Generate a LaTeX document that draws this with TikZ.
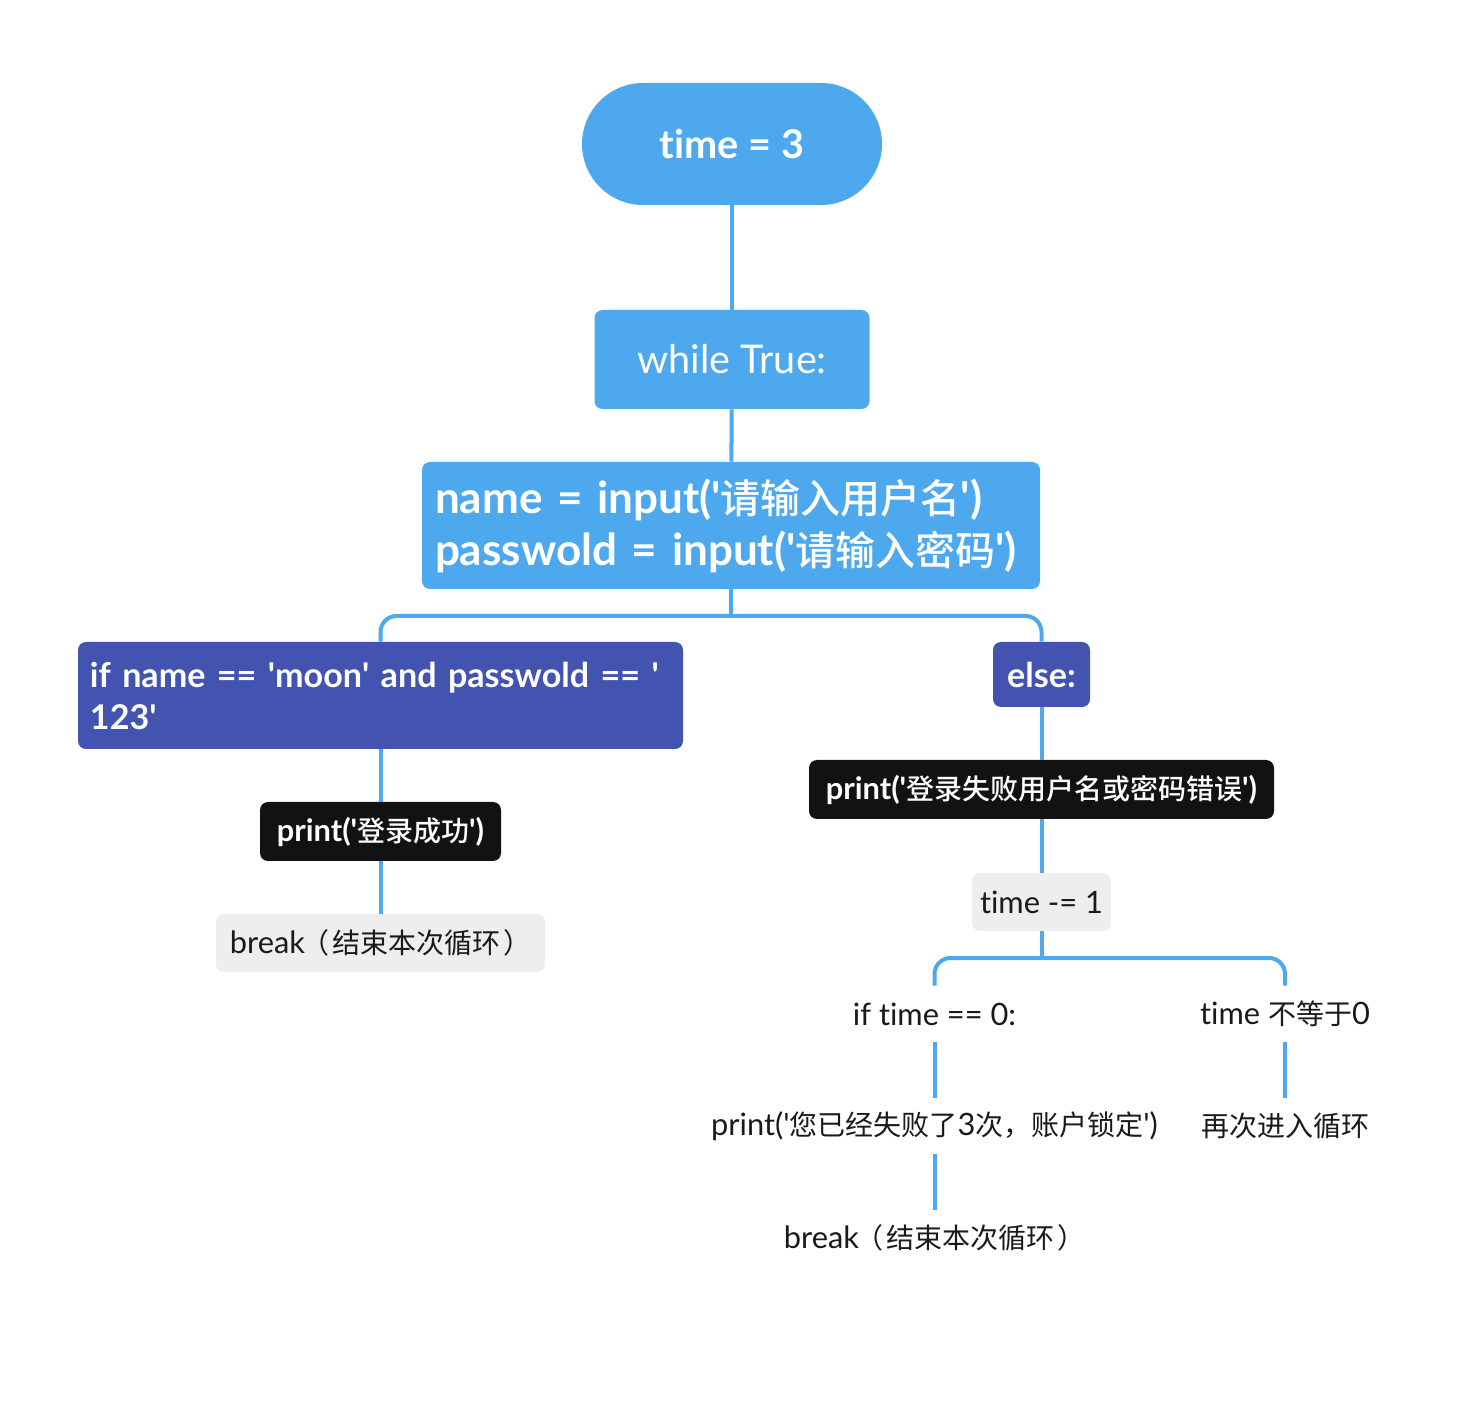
\documentclass[tikz,border=0pt]{standalone}
\usepackage{fontspec}
\setmainfont{Lato}[Scale=1.1, Ligatures=CommonOff]
\newfontfamily\cjk{Noto Sans CJK SC}[BoldFont=Noto Sans CJK SC Medium]
\usetikzlibrary{positioning}

\definecolor{mapblue}{HTML}{4DA8EE}
\definecolor{mapindigo}{HTML}{4353B0}
\definecolor{mapblack}{HTML}{121212}
\definecolor{mapgrey}{HTML}{EEEEEE}
\definecolor{maptext}{HTML}{1A1A1A}
\newcommand\sq{\textquotesingle}
\newcommand\brk{break{\cjk\hspace{-2pt}（\hspace{1.5pt}结束本次循环\hspace{1.5pt}）}}

\tikzset{
  link/.style={draw=mapblue, line width=2pt},
  box/.style={rounded corners=4pt, inner xsep=6pt, inner ysep=0pt},
  central/.style={box, fill=mapblue, text=white, rounded corners=30.5pt, minimum width=150pt, minimum height=61pt, font=\bfseries\fontsize{18pt}{22pt}\selectfont},
  mainbox/.style={box, fill=mapblue, text=white, font=\fontsize{18pt}{22pt}\selectfont},
  codebox/.style={box, fill=mapblue, text=white, align=left, font=\bfseries\fontsize{20pt}{26pt}\selectfont},
  condbox/.style={box, fill=mapindigo, text=white, align=left, font=\bfseries\fontsize{15.5pt}{21pt}\selectfont},
  printbox/.style={box, fill=mapblack, text=white, minimum height=29.5pt, font=\bfseries\fontsize{14pt}{17pt}\selectfont},
  stmtbox/.style={box, fill=mapgrey, text=maptext, minimum height=29pt, font=\fontsize{14pt}{17pt}\selectfont},
  plain/.style={stmtbox, fill=none, minimum height=28pt},
}

\begin{document}
\begin{tikzpicture}[x=0.5pt, y=-0.5pt]
\useasboundingbox (0,0) rectangle (1480,1428);
% main column
\node[central] (tm) at (732,144) {time = 3};
\node[mainbox, minimum width=137.5pt, minimum height=49.5pt] (wt) at (732,359.5) {while True:};
\node[codebox, minimum width=309pt, minimum height=63.5pt, text width=296pt] (nm) at (731,525.5)
  {name = input(\sq{\cjk 请输入用户名}\sq)\\passwold = input(\sq{\cjk 请输入密码}\sq)};
% login ok
\node[condbox, minimum width=302.5pt, text width=290.5pt, minimum height=53.5pt] (ifok) at (380.5,695.5)
  {if name == \sq moon\sq{} and passwold == \sq\\123\sq};
\node[printbox, minimum width=120.5pt] (okp) at (380.5,831.5) {print(\sq{\cjk 登录成功}\sq)};
\node[stmtbox, minimum width=164.5pt] (okb) at (380.5,943) {\brk};
% login failed
\node[condbox, minimum width=48.5pt, minimum height=32.5pt, align=center] (els) at (1041.5,674.5) {else:};
\node[printbox, minimum width=232.5pt] (failp) at (1041.5,789.5) {print(\sq{\cjk 登录失败用户名或密码错误}\sq)};
\node[stmtbox, minimum width=68.5pt, inner xsep=4pt] (dec) at (1041.5,902) {time -= 1};
\node[plain] (zero) at (934.5,1014) {if time == 0:};
\node[plain] (nonzero) at (1285,1014) {time {\cjk 不等于}0};
\node[plain] (lockp) at (934.5,1126) {print(\sq{\cjk 您已经失败了}3{\cjk 次，账户锁定}\sq)};
\node[plain] (again) at (1285,1126) {{\cjk 再次进入循环}};
\node[plain] (lockb) at (934.5,1238) {\brk};
% connectors
\coordinate (fork1) at (731,616);
\coordinate (fork2) at (1041.5,958);
\draw[link] (tm) -- (wt);
\draw[link] (wt) -- (nm);
\draw[link] (nm) -- (fork1);
\draw[link, rounded corners=8pt] (ifok.north) |- (fork1) -| (els.north);
\draw[link] (ifok) -- (okp);
\draw[link] (okp) -- (okb);
\draw[link] (els) -- (failp);
\draw[link] (failp) -- (dec);
\draw[link] (dec) -- (fork2);
\draw[link, rounded corners=8pt] (zero.north) |- (fork2) -| (nonzero.north);
\draw[link] (zero) -- (lockp);
\draw[link] (lockp) -- (lockb);
\draw[link] (nonzero) -- (again);
\end{tikzpicture}
\end{document}
